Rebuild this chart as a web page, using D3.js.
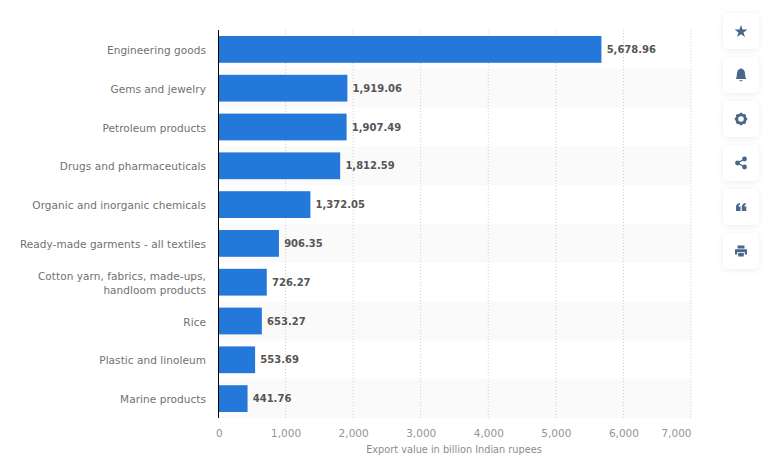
<!DOCTYPE html>
<html>
<head>
<meta charset="utf-8">
<script src="https://cdn.jsdelivr.net/npm/d3@7"></script>
<style>
  html, body { margin: 0; padding: 0; background: #fff; }
  svg { display: block; font-family: "DejaVu Sans", sans-serif; }
</style>
</head>
<body>
<svg id="chart" width="768" height="462"></svg>
<script>
const categories = [
  "Engineering goods",
  "Gems and jewelry",
  "Petroleum products",
  "Drugs and pharmaceuticals",
  "Organic and inorganic chemicals",
  "Ready-made garments - all textiles",
  "Cotton yarn, fabrics, made-ups,|handloom products",
  "Rice",
  "Plastic and linoleum",
  "Marine products"
];
const values = [5678.96, 1919.06, 1907.49, 1812.59, 1372.05, 906.35, 726.27, 653.27, 553.69, 441.76];
const xTicks = [0, 1000, 2000, 3000, 4000, 5000, 6000, 7000];
const xTitle = "Export value in billion Indian rupees";
const icons = ["star", "bell", "gear", "share", "quote", "print"];

const margin = {top: 30, right: 77, bottom: 44, left: 218.5};
const w = 768 - margin.left - margin.right,
      h = 462 - margin.top - margin.bottom;

const svg = d3.select("#chart");

const defs = svg.append("defs");
const shadow = defs.append("filter").attr("id", "card")
  .attr("x", "-30%").attr("y", "-30%").attr("width", "160%").attr("height", "160%");
shadow.append("feDropShadow").attr("dx", 0).attr("dy", 1).attr("stdDeviation", 3)
  .attr("flood-color", "#000").attr("flood-opacity", 0.07);

const container = svg.append("g").attr("transform", `translate(${margin.left}, ${margin.top})`);

const x_scale = d3.scaleLinear().domain([0, 7000]).range([-0.5, 472.5]);
const y_band = d3.scaleBand().domain(categories).range([0, h]);
const y_bar = d3.scaleBand().domain(categories).range([0, h]).paddingInner(0.31).paddingOuter(0.155);
const barEnd = d => x_scale(d) - 0.3;

// alternating row stripes
container.selectAll(".stripe")
  .data(categories.filter((d, i) => i % 2 === 1))
  .join("rect")
  .attr("class", "stripe")
  .attr("x", 0)
  .attr("y", d => y_band(d))
  .attr("width", x_scale(7000))
  .attr("height", y_band.bandwidth())
  .style("fill", "#fafafa");

// dotted grid
container.selectAll(".grid")
  .data(xTicks.slice(1))
  .join("line")
  .attr("class", "grid")
  .attr("x1", d => x_scale(d))
  .attr("x2", d => x_scale(d))
  .attr("y1", 0)
  .attr("y2", h)
  .style("stroke", "#cfcfcf")
  .style("stroke-width", 1)
  .style("stroke-dasharray", "1,2");

container.selectAll(".bar")
  .data(values)
  .join("rect")
  .attr("class", "bar")
  .attr("x", 0)
  .attr("y", (d, i) => y_bar(categories[i]))
  .attr("width", barEnd)
  .attr("height", y_bar.bandwidth())
  .style("fill", "#2478d9");

container.selectAll(".val")
  .data(values)
  .join("text")
  .attr("class", "val")
  .attr("x", d => barEnd(d) + 5.2)
  .attr("y", (d, i) => y_band(categories[i]) + y_band.bandwidth() / 2)
  .attr("dy", "0.36em")
  .style("font-size", "10px")
  .style("font-weight", "bold")
  .style("fill", "#555")
  .text(d => d3.format(",.2f")(d));

// category labels, "|" marks a line break
const catLabels = container.selectAll(".cat")
  .data(categories)
  .join("text")
  .attr("class", "cat")
  .attr("text-anchor", "end")
  .style("font-size", "10.5px")
  .style("letter-spacing", "0.06px")
  .style("fill", "#717171");
catLabels.each(function(d) {
  const parts = d.split("|");
  const mid = y_band(d) + y_band.bandwidth() / 2;
  d3.select(this).selectAll("tspan")
    .data(parts)
    .join("tspan")
    .attr("x", -12.5)
    .attr("y", (p, i) => mid + 4.6 + (i - (parts.length - 1) / 2) * 14)
    .text(p => p);
});

const xAxis = d3.axisBottom(x_scale).tickValues(xTicks).tickSize(0).tickPadding(12)
  .tickFormat(d3.format(","));
const axisG = container.append("g").attr("transform", `translate(0, ${h})`).call(xAxis);
axisG.select(".domain").remove();
axisG.selectAll("text")
  .style("font-family", "\"DejaVu Sans\", sans-serif")
  .style("font-size", "10.5px")
  .style("fill", "#949494");
axisG.selectAll(".tick").filter(d => d === 0).select("text").attr("dx", 0.8);
axisG.selectAll(".tick").filter(d => d === 7000).select("text").attr("text-anchor", "end");

container.append("line")
  .attr("x1", 0).attr("x2", 0).attr("y1", 0).attr("y2", h)
  .style("stroke", "#000").style("stroke-width", 1);

container.append("text")
  .attr("x", x_scale(3500) - 0.5)
  .attr("y", h + 35)
  .attr("text-anchor", "middle")
  .style("font-size", "9.75px")
  .style("fill", "#8c8c8c")
  .text(xTitle);

// side toolbar
const iconColor = "#48678a";
const iconPaths = {
  star: g => g.append("path").attr("d", d3.symbol(d3.symbolStar, 52)()).attr("transform", "translate(0,0.6)"),
  bell: g => {
    g.append("path").attr("d", "M-5.2,4 C-3.8,2 -4.4,-1 -3.8,-3 C-3.2,-5.3 -1.5,-6.5 0,-6.5 C1.5,-6.5 3.2,-5.3 3.8,-3 C4.4,-1 3.8,2 5.2,4 Z");
    g.append("rect").attr("x", -1.5).attr("y", 5.2).attr("width", 3).attr("height", 1);
  },
  gear: g => {
    g.append("circle").attr("r", 4.2).style("fill", "none").style("stroke", iconColor).style("stroke-width", 2.8);
    d3.range(0, 360, 45).forEach(a => g.append("rect")
      .attr("x", -1.2).attr("y", -6.2).attr("width", 2.4).attr("height", 2.2)
      .attr("transform", `rotate(${a})`));
  },
  share: g => {
    g.append("path").attr("d", "M3.5,-4 L-3.5,0 L3.5,4").style("fill", "none").style("stroke", iconColor).style("stroke-width", 1.4);
    [[3.5, -4], [-3.5, 0], [3.5, 4]].forEach(p => g.append("circle").attr("cx", p[0]).attr("cy", p[1]).attr("r", 2.4));
  },
  quote: g => {
    g.append("path").attr("d", "M-5,4 V0 C-5,-2 -4,-3.5 -1,-4 V-2.4 C-2,-2.2 -2.4,-1.6 -2.4,-0.6 H-0.5 V4 Z");
    g.append("path").attr("d", "M0.8,4 V0 C0.8,-2 1.8,-3.5 4.8,-4 V-2.4 C3.8,-2.2 3.4,-1.6 3.4,-0.6 H5.3 V4 Z");
  },
  print: g => {
    g.append("path").attr("d", "M-3.5,-5.5 H3.5 V-2.5 H-3.5 Z M-6,-1.8 H6 V3.5 H3.8 V1 H-3.8 V3.5 H-6 Z");
    g.append("rect").attr("x", -2.8).attr("y", 1.8).attr("width", 5.6).attr("height", 3.7);
  }
};

const cards = svg.selectAll(".card")
  .data(icons)
  .join("g")
  .attr("class", "card")
  .attr("transform", (d, i) => `translate(723, ${13 + i * 44})`);
cards.append("rect")
  .attr("width", 36).attr("height", 36).attr("rx", 5)
  .style("fill", "#fff")
  .attr("filter", "url(#card)");
cards.append("g")
  .attr("transform", "translate(18, 18)")
  .style("fill", iconColor)
  .each(function(d) { iconPaths[d](d3.select(this)); });
</script>
</body>
</html>
